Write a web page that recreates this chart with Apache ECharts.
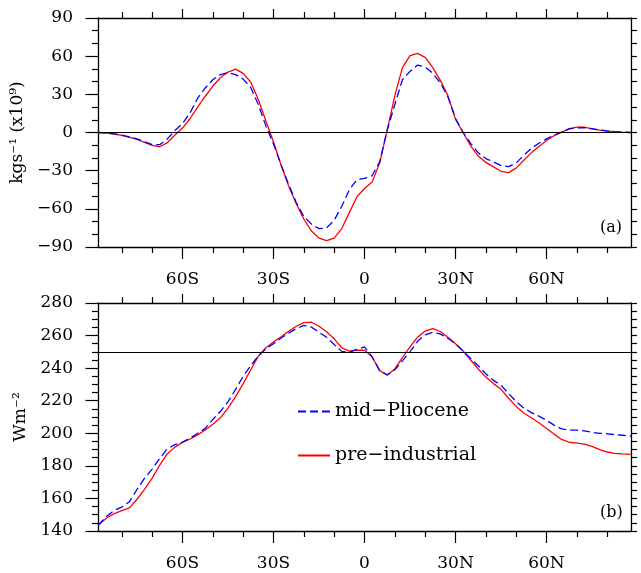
<!DOCTYPE html>
<html>
<head>
<meta charset="utf-8">
<script src="https://cdn.jsdelivr.net/npm/echarts@6/dist/echarts.min.js"></script>
<style>
html,body{margin:0;padding:0;background:#fff;}
#chart{width:641px;height:573px;}
</style>
</head>
<body>
<div id="chart"></div>
<script>
// Latitudes (degrees, negative = south)
const lat = [-87.86,-85,-82.5,-80,-77.5,-75,-72.5,-70,-67.5,-65,-62.5,-60,-57.5,-55,-52.5,-50,-47.5,-45,-42.5,-40,-37.5,-35,-32.5,-30,-27.5,-25,-22.5,-20,-17.5,-15,-12.5,-10,-7.5,-5,-2.5,0,2.5,5,7.5,10,12.5,15,17.5,20,22.5,25,27.5,30,32.5,35,37.5,40,42.5,45,47.5,50,52.5,55,57.5,60,62.5,65,67.5,70,72.5,75,77.5,80,82.5,85,87.86];

// Panel (a): mass streamfunction (kg s^-1 x10^9)
const psiPI = [0,-0.4,-1.2,-2.3,-3.8,-5.5,-7.8,-10.2,-11.2,-8,-2,3.5,11,20,28.5,36.5,43,47.5,49.8,46.5,39.5,26,9,-7.5,-25.5,-42,-56,-68,-77.5,-83,-85,-83,-75.5,-63,-50.5,-44,-39,-24,2,29,51,60.5,62.2,59,51,41,29,10.5,0,-10.5,-18.5,-23.5,-27,-30.5,-31.5,-28,-21.8,-16,-11,-6.3,-2.5,0.3,3,4.2,4.3,2.9,1.8,1.1,0.6,0.3,0];
const psiMP = [0,-0.4,-1.1,-2.1,-3.5,-5,-7.3,-9.6,-9.6,-5,1.5,7,15.5,27,35,41.5,45.5,47,45.5,42,35.4,22,5,-9,-25.5,-41,-55,-66,-72,-75.6,-75,-69,-58,-45,-37,-36,-34,-23,2,22,41.5,48,53,51.5,46.5,39,28,11,0,-8.5,-16,-20.5,-23,-26,-26.8,-24,-17.9,-12.5,-8.5,-5,-2,0.3,2.8,3.7,3.8,3,2,1.3,0.7,0.3,0];

// Panel (b): OLR (W m^-2)
const olrPI = [143.5,148,150.7,152.5,154.2,159.5,165.5,172.5,180.5,187.5,191.5,194.4,196.5,199,202,205.5,209.5,215.5,222.5,230.5,239,247.3,252.5,256,259.3,262.7,265.7,268,268.2,265.7,262.3,258,252.5,250.5,251,251,247,238.5,235.8,239.5,246.5,253,259,262.8,264.3,262.5,259,255,250.5,245,239.5,234.5,230.5,227,221.5,216.5,212.5,209.5,206.5,203,199.5,196.2,194.5,194,193.3,192,190,188.5,187.7,187.3,187.1];
const olrMP = [143.5,149,152.7,154.7,158,165.5,172.5,178,184.5,190.5,193,194.6,197,200,203,208.5,213.5,219.3,227,235,241.5,247.5,252,255,258.5,261.5,264.3,266.2,265.2,262,259,254.5,250.3,249.8,251.5,253,247,238.5,235.8,239,244.5,250,256.5,260.5,262,261,258.3,255,250.5,246,241.5,236.5,232.5,229.5,224.5,219.5,215.5,212.7,210.5,208,205,202.7,202,201.9,201.5,200.6,200,199.7,199.2,198.8,198.3];

const majorLat = [-60,-30,0,30,60];
const minorLat = [-80,-70,-50,-40,-20,-10,10,20,40,50,70,80];
const seriesNames = ['mid\u2212Pliocene','pre\u2212industrial'];
const refA = 0, refB = 250;

const FONT = 'DejaVu Serif';
const BLACK = '#000';
const RED = '#ff0000', BLUE = '#0000ff';

function latFmt(v){ v = Math.round(v); if (v < 0) return (-v) + 'S'; if (v > 0) return v + 'N'; return '0'; }
function numFmt(v){ return v < 0 ? '\u2212' + (-v) : String(v); }
function zip(a,b){ return a.map((x,i)=>[x,b[i]]); }

const latMin = lat[0], latMax = lat[lat.length-1];

function xAxes(gridIndex){
  const base = {type:'value', gridIndex, min:latMin, max:latMax, splitLine:{show:false}};
  return [
    Object.assign({}, base, {position:'bottom',
      axisLine:{show:true, onZero:false, lineStyle:{color:BLACK, width:1.3}},
      axisTick:{show:true, customValues:majorLat, length:12, lineStyle:{color:BLACK, width:1.2}},
      axisLabel:{show:true, customValues:majorLat, formatter:latFmt, margin:24, color:BLACK, fontFamily:FONT, fontSize:17}}),
    Object.assign({}, base, {position:'bottom',
      axisLine:{show:false, onZero:false},
      axisTick:{show:true, customValues:minorLat, length:6, lineStyle:{color:BLACK, width:1.2}},
      axisLabel:{show:false}}),
    Object.assign({}, base, {position:'top',
      axisLine:{show:true, onZero:false, lineStyle:{color:BLACK, width:1.3}},
      axisTick:{show:true, customValues:majorLat, length:9, lineStyle:{color:BLACK, width:1.2}},
      axisLabel:{show:false}}),
    Object.assign({}, base, {position:'top',
      axisLine:{show:false, onZero:false},
      axisTick:{show:true, customValues:minorLat, length:6, lineStyle:{color:BLACK, width:1.2}},
      axisLabel:{show:false}})
  ];
}

function yAxes(gridIndex, min, max, interval, minorSplit, rightInterval, name){
  return [
    {type:'value', gridIndex, position:'left', min, max, interval,
     name, nameLocation:'middle', nameGap:69, nameRotate:90,
     nameTextStyle:{color:BLACK, fontFamily:FONT, fontSize:17},
     axisLine:{show:true, onZero:false, lineStyle:{color:BLACK, width:1.3}},
     axisTick:{show:true, length:12.5, lineStyle:{color:BLACK, width:1.2}},
     minorTick:{show:true, splitNumber:minorSplit, length:6, lineStyle:{color:BLACK, width:1.2}},
     axisLabel:{formatter:numFmt, margin:25, color:BLACK, fontFamily:FONT, fontSize:17},
     splitLine:{show:false}, minorSplitLine:{show:false}},
    {type:'value', gridIndex, position:'right', min, max, interval:rightInterval,
     axisLine:{show:true, onZero:false, lineStyle:{color:BLACK, width:1.3}},
     axisTick:{show:true, length:6, lineStyle:{color:BLACK, width:1.2}},
     axisLabel:{show:false}, splitLine:{show:false}}
  ];
}

function refLine(v){
  return {silent:true, symbol:['none','none'], label:{show:false},
          lineStyle:{color:BLACK, width:1.2, type:'solid'}, data:[{yAxis:v}]};
}

const chart = echarts.init(document.getElementById('chart'), null, {renderer:'canvas'});
chart.setOption({
  animation:false,
  backgroundColor:'#fff',
  grid:[
    {left:98, top:18, width:533, height:229, containLabel:false},
    {left:98, top:303, width:533, height:228, containLabel:false}
  ],
  xAxis:[...xAxes(0), ...xAxes(1)],
  yAxis:[
    ...yAxes(0, -90, 90, 30, 3, 10, 'kgs\u207B\u00B9 (x10\u2079)'),
    ...yAxes(1, 140, 280, 20, 4, 5, 'Wm\u207B\u00B2')
  ],
  legend:{
    show:true, orient:'vertical', left:297, top:402, padding:0,
    itemWidth:32, itemHeight:19, itemGap:25,
    data:seriesNames,
    itemStyle:{color:'rgba(0,0,0,0)', borderWidth:0, opacity:0},
    textStyle:{color:BLACK, fontFamily:FONT, fontSize:19}
  },
  graphic:[
    {type:'text', left:600, top:220, style:{text:'(a)', font:'16px "DejaVu Serif"', fill:BLACK}},
    {type:'text', left:600, top:505, style:{text:'(b)', font:'16px "DejaVu Serif"', fill:BLACK}}
  ],
  series:[
    {name:seriesNames[1], type:'line', xAxisIndex:0, yAxisIndex:0, data:zip(lat, psiPI),
     symbol:'none', smooth:false, lineStyle:{color:RED, width:1.3}, itemStyle:{color:RED},
     markLine:refLine(refA), z:2},
    {name:seriesNames[0], type:'line', xAxisIndex:0, yAxisIndex:0, data:zip(lat, psiMP),
     symbol:'none', smooth:false, lineStyle:{color:BLUE, width:1.3, type:[8,4]}, itemStyle:{color:BLUE}, z:3},
    {name:seriesNames[1], type:'line', xAxisIndex:4, yAxisIndex:2, data:zip(lat, olrPI),
     symbol:'none', smooth:false, lineStyle:{color:RED, width:1.3}, itemStyle:{color:RED},
     markLine:refLine(refB), z:2},
    {name:seriesNames[0], type:'line', xAxisIndex:4, yAxisIndex:2, data:zip(lat, olrMP),
     symbol:'none', smooth:false, lineStyle:{color:BLUE, width:1.3, type:[8,4]}, itemStyle:{color:BLUE}, z:3}
  ]
});
</script>
</body>
</html>
